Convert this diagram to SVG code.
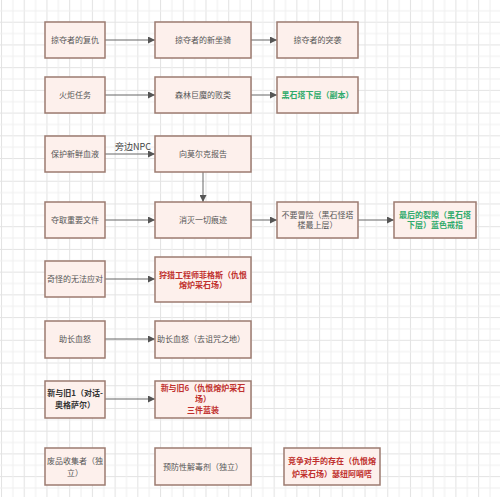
<svg xmlns="http://www.w3.org/2000/svg" width="500" height="497" viewBox="0 0 500 497">
<defs>
<pattern id="grid" patternUnits="userSpaceOnUse" x="1" y="-1" width="22.72" height="22.72">
<rect width="22.72" height="22.72" fill="#ffffff"/>
<path d="M0.5 0V22.72M0 0.5H22.72" stroke="#e3e3e3" stroke-width="1" fill="none"/>
<path d="M11.86 0V22.72M0 11.86H22.72" stroke="#efefef" stroke-width="1" fill="none"/>
</pattern>
<marker id="arr" viewBox="0 0 10 10" refX="10" refY="5" markerWidth="7" markerHeight="7" markerUnits="userSpaceOnUse" orient="auto">
<path d="M0 0L10 5L0 10Z" fill="#555"/>
</marker>
<style>
.box{fill:#fdf0ec;stroke:#9c7b70;stroke-width:1.5}
.t{font-family:"Noto Sans CJK SC","Noto Sans",sans-serif;font-size:8px;fill:#555;text-anchor:middle}
.r{fill:#c0302e;font-weight:bold}
.g{fill:#2eaa6a;font-weight:bold}
.k{fill:#333;font-weight:bold}
.c{stroke:#666;stroke-width:1;fill:none;marker-end:url(#arr)}
</style>
</defs>
<rect width="500" height="497" fill="url(#grid)"/>
<g id="connectors">
<path class="c" d="M105 40H155"/>
<path class="c" d="M251 40H277"/>
<path class="c" d="M105 95H155"/>
<path class="c" d="M251 95H277"/>
<path class="c" d="M105 154H155"/>
<text class="t" x="133" y="150" style="font-size:9px;fill:#444">旁边NPC</text>
<path class="c" d="M203 172V202"/>
<path class="c" d="M105 220H155"/>
<path class="c" d="M251 220H277"/>
<path class="c" d="M358 220H394"/>
<path class="c" d="M105 279H155"/>
<path class="c" d="M105 339H155"/>
<path class="c" d="M105 399H155"/>
</g>
<g id="n1"><rect class="box" x="45" y="22" width="60" height="36"/><text class="t" x="75" y="43">掠夺者的复仇</text></g>
<g id="n2"><rect class="box" x="155" y="22" width="96" height="36"/><text class="t" x="203" y="43">掠夺者的新坐骑</text></g>
<g id="n3"><rect class="box" x="277" y="22" width="81" height="36"/><text class="t" x="317.5" y="43">掠夺者的突袭</text></g>
<g id="n4"><rect class="box" x="45" y="77" width="60" height="36"/><text class="t" x="75" y="98">火炬任务</text></g>
<g id="n5"><rect class="box" x="155" y="77" width="96" height="36"/><text class="t" x="203" y="98">森林巨魔的败类</text></g>
<g id="n6"><rect class="box" x="277" y="77" width="81" height="36"/><text class="t g" x="317.5" y="98">黑石塔下层（副本）</text></g>
<g id="n7"><rect class="box" x="45" y="136" width="60" height="36"/><text class="t" x="75" y="157">保护新鲜血液</text></g>
<g id="n8"><rect class="box" x="155" y="136" width="96" height="36"/><text class="t" x="203" y="157">向莫尔克报告</text></g>
<g id="n9"><rect class="box" x="45" y="202" width="60" height="36"/><text class="t" x="75" y="223">夺取重要文件</text></g>
<g id="n10"><rect class="box" x="155" y="202" width="96" height="36"/><text class="t" x="203" y="223">消灭一切痕迹</text></g>
<g id="n11"><rect class="box" x="277" y="202" width="81" height="36"/><text class="t" x="317.5" y="218">不要冒险（黑石怪塔</text><text class="t" x="317.5" y="228">楼最上层）</text></g>
<g id="n12"><rect class="box" x="394" y="202" width="82" height="36"/><text class="t g" x="435" y="218">最后的裂隙（黑石塔</text><text class="t g" x="435" y="228">下层）蓝色戒指</text></g>
<g id="n13"><rect class="box" x="45" y="261" width="60" height="36"/><text class="t" x="75" y="282">奇怪的无法应对</text></g>
<g id="n14"><rect class="box" x="155" y="257" width="96" height="45"/><text class="t r" x="203" y="278">狩猎工程师菲格斯（仇恨</text><text class="t r" x="203" y="288">熔炉采石场）</text></g>
<g id="n15"><rect class="box" x="45" y="321" width="60" height="37"/><text class="t" x="75" y="342">助长血怒</text></g>
<g id="n16"><rect class="box" x="155" y="321" width="96" height="37"/><text class="t" x="201" y="342">助长血怒（去诅咒之地）</text></g>
<g id="n17"><rect class="box" x="45" y="381" width="60" height="37"/><text class="t k" x="75" y="396">新与旧1（对话-</text><text class="t k" x="75" y="408">奥格萨尔）</text></g>
<g id="n18"><rect class="box" x="155" y="381" width="96" height="37"/><text class="t r" x="203" y="391">新与旧6（仇恨熔炉采石</text><text class="t r" x="203" y="402">场）</text><text class="t r" x="203" y="413">三件蓝装</text></g>
<g id="n19"><rect class="box" x="45" y="448" width="60" height="37"/><text class="t" x="75" y="464">废品收集者（独</text><text class="t" x="75" y="476">立）</text></g>
<g id="n20"><rect class="box" x="155" y="448" width="96" height="37"/><text class="t" x="203" y="470">预防性解毒剂（独立）</text></g>
<g id="n21"><rect class="box" x="284" y="448" width="96" height="37"/><text class="t r" x="332" y="464">竞争对手的存在（仇恨熔</text><text class="t r" x="332" y="477">炉采石场）瑟纽阿哨嗒</text></g>
</svg>
